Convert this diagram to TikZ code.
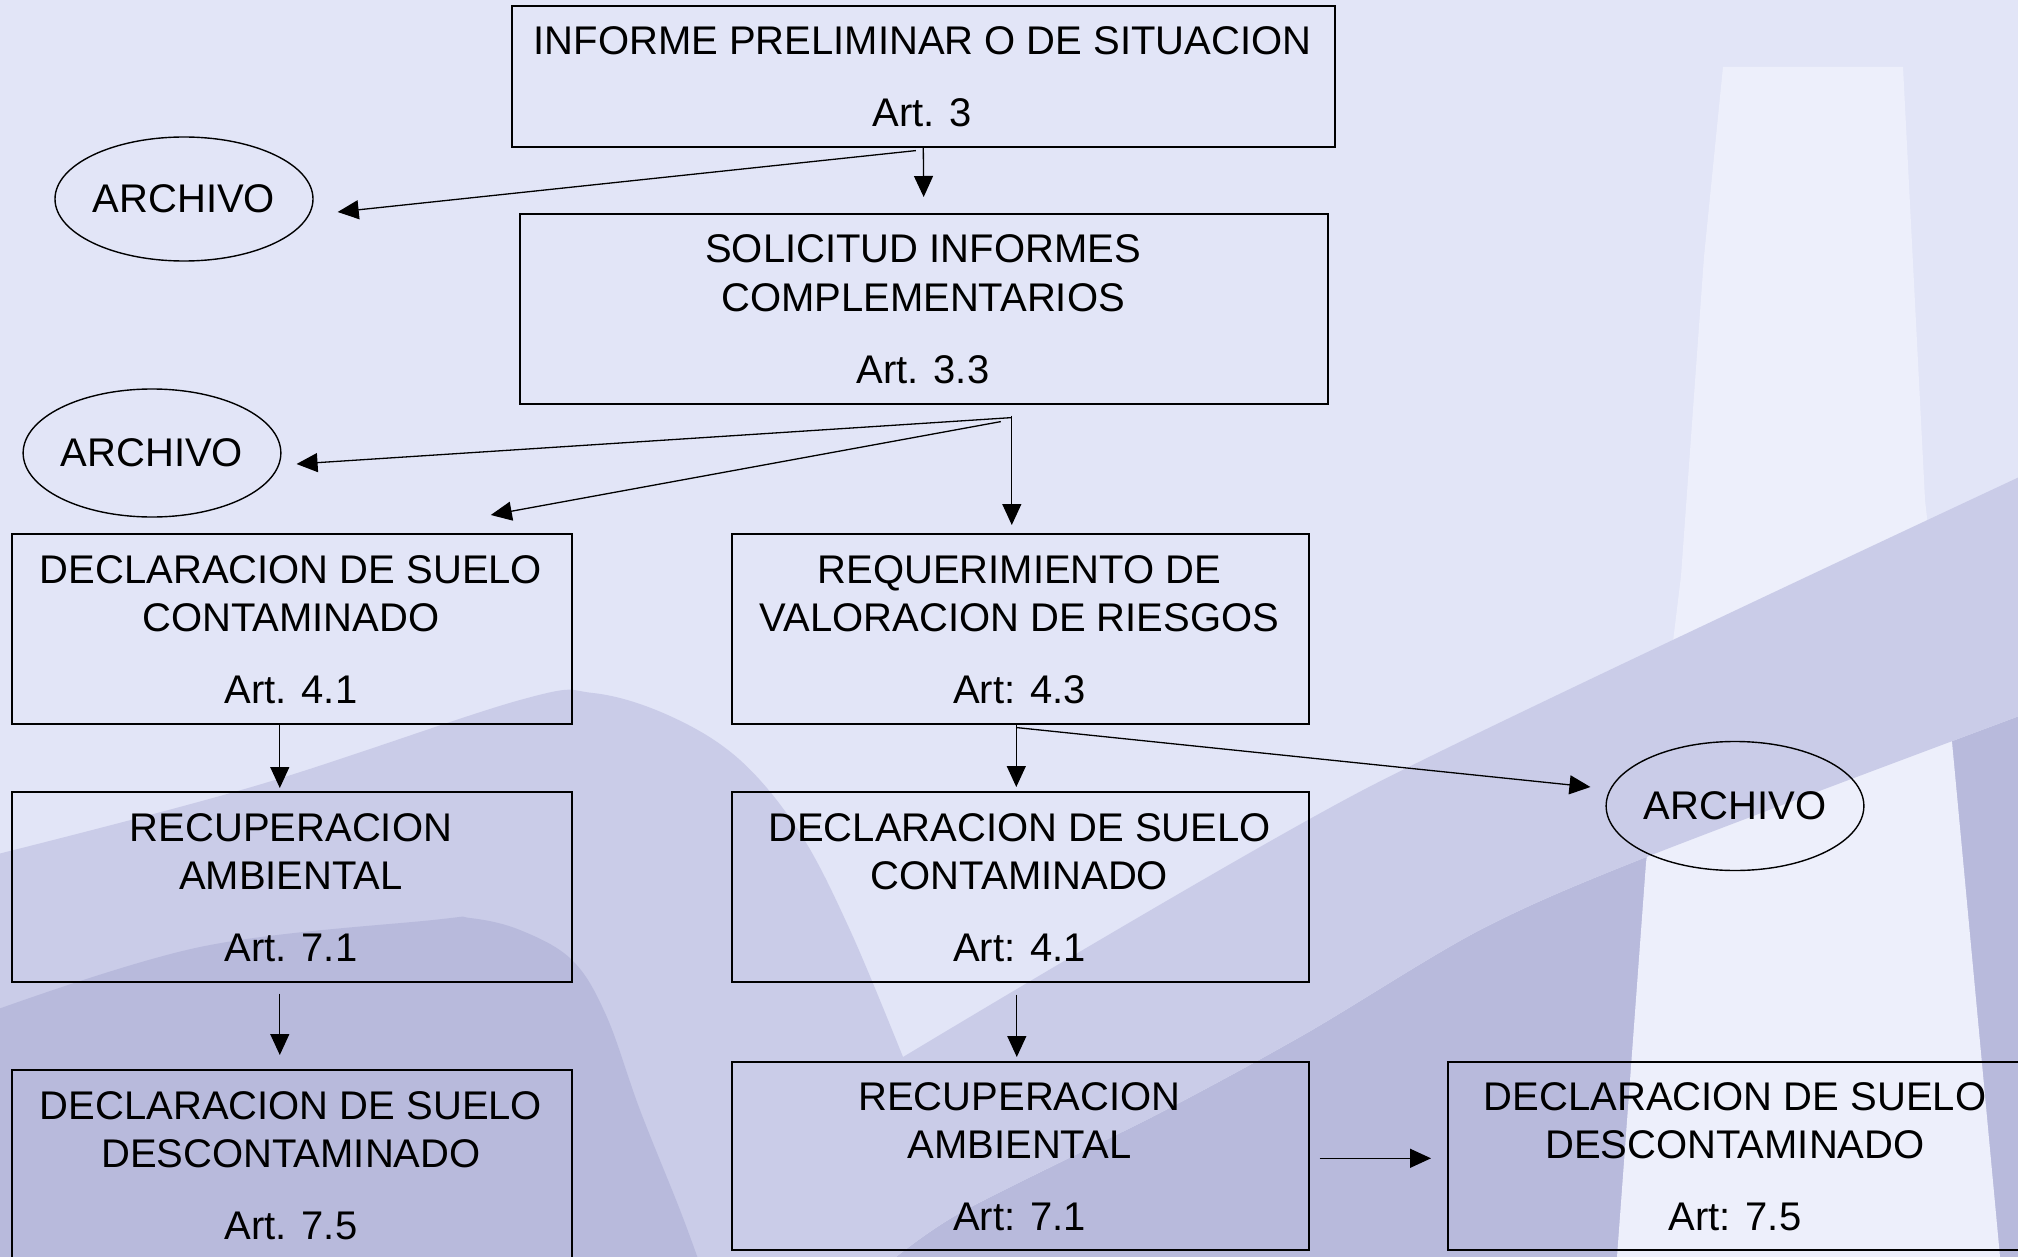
\documentclass[tikz,border=0pt]{standalone}
\usepackage{fontspec}
\setmainfont{Liberation Sans}
\usetikzlibrary{arrows.meta,shapes.geometric,calc}
\definecolor{bgc}{RGB}{226,229,247}
\definecolor{colc}{RGB}{237,239,251}
\definecolor{midc}{RGB}{202,204,232}
\definecolor{darkc}{RGB}{184,186,220}
\begin{document}
\begin{tikzpicture}[x=0.5pt,y=-0.5pt,
  box/.style={draw=black, line width=0.8pt, rectangle, inner sep=0pt, anchor=north west},
  ell/.style={draw=black, line width=0.7pt, ellipse, inner sep=0pt, font=\fontsize{20pt}{24pt}\selectfont},
  txt/.style={anchor=base, inner sep=0pt, font=\fontsize{20pt}{24pt}\selectfont},
  arr/.style={-{Triangle[length=10.5pt,width=9.5pt]}, line width=0.65pt}]
\useasboundingbox (0,0) rectangle (2018,1257);
\clip (0,0) rectangle (2018,1257);
% background
\fill[bgc] (0,0) rectangle (2018,1257);
\fill[darkc] plot[smooth, tension=0.5] coordinates {(2030,712) (1649,856) (1480,930) (1307,1033) (1160,1113) (960,1213) (880,1270)} -- (2030,1270) -- cycle;
\fill[colc] (1723,67) -- (1903,67) -- (1925,500) -- (1952,742) -- (2000,1257) -- (2000,1270) -- (1615,1270) -- (1617,1257) -- (1646,863) -- (1681,576) -- (1704,257) -- cycle;
\fill[midc] (-10,1270) -- plot[smooth, tension=0.6] coordinates {(-10,856) (255,786) (520,700) (593,693) (670,716) (740,760) (800,833) (850,930) (903,1057)}
  -- plot[smooth, tension=0.4] coordinates {(903,1057) (1367,788) (2030,472)}
  -- (2030,712)
  -- plot[smooth, tension=0.5] coordinates {(2030,712) (1649,856) (1480,930) (1307,1033) (1160,1113) (960,1213) (880,1270)} -- cycle;
\fill[darkc] (-10,1270) -- plot[smooth, tension=0.6] coordinates {(-10,1012) (200,947) (433,920) (470,918) (520,930) (572,960) (606,1015) (640,1110) (680,1210) (702,1270)} -- cycle;
% boxes
\node[box, minimum width=411.5pt, minimum height=70.5pt] (b1) at (511,5) {};
\node[box, minimum width=404pt, minimum height=95pt] (b2) at (519,213) {};
\node[box, minimum width=280pt, minimum height=95pt] (b3) at (11,533) {};
\node[box, minimum width=288.5pt, minimum height=95pt] (b4) at (731,533) {};
\node[box, minimum width=280pt, minimum height=95pt] (b5) at (11,791) {};
\node[box, minimum width=288.5pt, minimum height=95pt] (b6) at (731,791) {};
\node[box, minimum width=280pt, minimum height=95pt] (b7) at (11,1069) {};
\node[box, minimum width=288.5pt, minimum height=94pt] (b8) at (731,1061) {};
\node[box, minimum width=288pt, minimum height=94pt] (b9) at (1447,1061) {};
% texts
\node[txt] (t1a) at (922.5,55) {INFORME PRELIMINAR O DE SITUACION};
\node[txt] (t1b) at (922.5,126.7) {Art. 3};
\node[txt] (t2a) at (923,263) {SOLICITUD INFORMES};
\node[txt] (t2b) at (923,311.5) {COMPLEMENTARIOS};
\node[txt] (t2c) at (923,383) {Art. 3.3};
\node[txt] (t3a) at (291,583) {DECLARACION DE SUELO};
\node[txt] (t3b) at (291,631.5) {CONTAMINADO};
\node[txt] (t3c) at (291,703) {Art. 4.1};
\node[txt] (t4a) at (1019.5,583) {REQUERIMIENTO DE};
\node[txt] (t4b) at (1019.5,631.5) {VALORACION DE RIESGOS};
\node[txt] (t4c) at (1019.5,703) {Art: 4.3};
\node[txt] (t5a) at (291,841) {RECUPERACION};
\node[txt] (t5b) at (291,889.5) {AMBIENTAL};
\node[txt] (t5c) at (291,961) {Art. 7.1};
\node[txt] (t6a) at (1019.5,841) {DECLARACION DE SUELO};
\node[txt] (t6b) at (1019.5,889.5) {CONTAMINADO};
\node[txt] (t6c) at (1019.5,961) {Art: 4.1};
\node[txt] (t7a) at (291,1119) {DECLARACION DE SUELO};
\node[txt] (t7b) at (291,1167.5) {DESCONTAMINADO};
\node[txt] (t7c) at (291,1239) {Art. 7.5};
\node[txt] (t8a) at (1019.5,1110) {RECUPERACION};
\node[txt] (t8b) at (1019.5,1158.5) {AMBIENTAL};
\node[txt] (t8c) at (1019.5,1230) {Art: 7.1};
\node[txt] (t9a) at (1735,1110) {DECLARACION DE SUELO};
\node[txt] (t9b) at (1735,1158.5) {DESCONTAMINADO};
\node[txt] (t9c) at (1735,1230) {Art: 7.5};
% ellipses
\node[ell, minimum width=129pt, minimum height=62pt] (a1) at (184,199) {ARCHIVO};
\node[ell, minimum width=128.5pt, minimum height=64pt] (a2) at (152,453) {ARCHIVO};
\node[ell, minimum width=128.5pt, minimum height=64.5pt] (a3) at (1735,806) {ARCHIVO};
% connectors
\draw[arr, shorten >=8pt] (b1.south) -- (b2.north);
\draw[arr] ($(b1.south)+(-7.5,3)$) -- ($(a1.east)+(24,13)$);
\coordinate (j2) at ($(b2.south)+(88,11)$);
\draw[arr, shorten >=4pt] (j2) -- (j2 |- b4.north);
\draw[arr] ($(b2.south)+(88,13)$) -- ($(a2.east)+(15,11)$);
\draw[arr] ($(b2.south)+(77,17)$) -- ($(b3.north)+(199,-18)$);
\coordinate (j4) at ($(b4.south)+(-4,0)$);
\draw[arr, shorten >=2pt] (j4) -- (j4 |- b6.north);
\draw[arr] ($(b4.south)+(-3.5,3)$) -- ($(a3.west)+(-15,-19)$);
\coordinate (j3) at ($(b3.south)+(-12,0)$);
\draw[arr, shorten >=1.5pt] (j3) -- (j3 |- b5.north);
\coordinate (j5) at ($(b5.south)+(-12,11)$);
\draw[arr, shorten >=7pt] (j5) -- (j5 |- b7.north);
\coordinate (j6) at ($(b6.south)+(-3.5,12)$);
\draw[arr, shorten >=2pt] (j6) -- (j6 |- b8.north);
\coordinate (j8) at ($(b8.east)+(10,2.5)$);
\draw[arr, shorten >=8pt] (j8) -- (j8 -| b9.west);
\end{tikzpicture}
\end{document}
